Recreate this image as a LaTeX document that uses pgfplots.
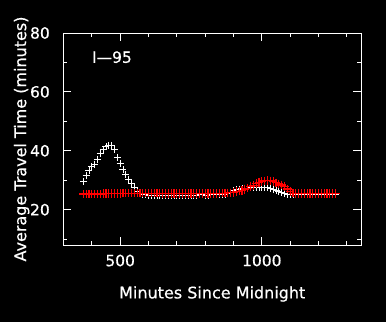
\documentclass[border=0pt]{standalone}
\usepackage{fontspec}
\setmainfont{DejaVu Sans ExtraLight}[FakeBold=0.5]
\usepackage{pgfplots}
\pgfplotsset{compat=1.18}
\begin{document}
\begin{tikzpicture}[x=1pt,y=1pt]
\fill[black] (-63.5,-77) rectangle (322.5,245);
\useasboundingbox (-63.5,-77) rectangle (322.5,245);
\begin{axis}[
  at={(0,0)}, anchor=south west,
  scale only axis, width=297.5pt, height=212pt,
  xmin=300, xmax=1350, ymin=8, ymax=80,
  xtick={500,1000}, minor xtick={400,600,700,800,900,1100,1200,1300},
  ytick={20,40,60,80}, minor ytick={10,30,50,70},
  tick align=inside, major tick length=8pt, minor tick length=4pt,
  axis line style={white, line width=1pt},
  every tick/.style={white, line width=1pt},
  /pgf/number format/assume math mode=true,
  /pgf/number format/1000 sep={},
  tick label style={font=\bfseries\fontsize{15.5}{18}\selectfont, text=white, inner sep=0pt},
  xticklabel style={anchor=center, yshift=-15.5pt},
  yticklabel style={anchor=east, xshift=-13.5pt},
  label style={font=\bfseries\fontsize{16}{19}\selectfont, text=white},
  xlabel={Minutes Since Midnight},
  ylabel={Average Travel Time (minutes)},
  xlabel style={at={(axis description cs:0.5,-0.2311)}, anchor=center},
  ylabel style={at={(axis description cs:-0.1405,0.5)}, anchor=center},
  clip=false,
]
\addplot[only marks, mark=+, mark size=3.5pt, white, mark options={line width=0.9pt}] table {
x y
370 29.5
380 31.5
390 33.2
400 34.6
410 35.5
420 37.2
430 39.2
440 40.6
450 41.4
460 41.8
470 41.7
480 40.4
490 37.8
500 35.6
510 33.5
520 31.8
530 30.2
540 29.0
550 27.6
560 26.3
570 25.6
580 25.3
590 25.0
600 24.8
610 24.8
620 24.8
630 24.9
640 24.8
650 24.8
660 24.9
670 24.9
680 24.8
690 24.8
700 24.9
710 24.9
720 24.8
730 24.8
740 24.9
750 24.9
760 24.9
770 24.9
780 25.0
790 25.0
800 24.9
810 24.9
820 25.0
830 25.0
840 25.0
850 25.0
860 25.1
870 25.3
880 25.6
890 26.0
900 26.5
910 26.8
920 27.0
930 27.2
940 27.3
950 27.3
960 27.4
970 27.5
980 27.6
990 27.6
1000 27.6
1010 27.6
1020 27.5
1030 27.3
1040 27.0
1050 26.6
1060 26.2
1070 25.8
1080 25.5
1090 25.2
1100 25.0
1110 25.0
1120 25.0
1130 25.0
1140 25.0
1150 25.0
1160 25.0
1170 25.0
1180 25.0
1190 25.0
1200 25.0
1210 25.0
1220 25.0
1230 25.0
1240 25.0
1250 25.0
1260 25.0
};
\addplot[only marks, mark=+, mark size=4.3pt, red, mark options={line width=1.2pt}] table {
x y
370 25.3
380 25.3
390 25.3
400 25.3
410 25.3
420 25.3
430 25.3
440 25.4
450 25.4
460 25.4
470 25.5
480 25.5
490 25.5
500 25.5
510 25.6
520 25.6
530 25.6
540 25.6
550 25.6
560 25.6
570 25.6
580 25.6
590 25.6
600 25.6
610 25.6
620 25.6
630 25.6
640 25.6
650 25.5
660 25.5
670 25.5
680 25.5
690 25.5
700 25.5
710 25.5
720 25.5
730 25.5
740 25.5
750 25.5
760 25.5
770 25.5
780 25.5
790 25.5
800 25.5
810 25.5
820 25.5
830 25.5
840 25.5
850 25.6
860 25.6
870 25.6
880 25.7
890 25.7
900 25.9
910 26.1
920 26.3
930 26.6
940 26.9
950 27.3
960 27.8
970 28.3
980 28.8
990 29.3
1000 29.6
1010 29.8
1020 29.9
1030 29.8
1040 29.5
1050 29.1
1060 28.7
1070 28.4
1080 27.8
1090 27.0
1100 26.2
1110 25.6
1120 25.5
1130 25.5
1140 25.5
1150 25.5
1160 25.5
1170 25.5
1180 25.5
1190 25.5
1200 25.5
1210 25.5
1220 25.5
1230 25.5
1240 25.5
1250 25.5
1260 25.5
};
\node[anchor=west, text=white, font=\bfseries\fontsize{15.5}{18}\selectfont, inner sep=0pt] at (axis cs:400,71.8) {I—95};
\end{axis}
\end{tikzpicture}
\end{document}
